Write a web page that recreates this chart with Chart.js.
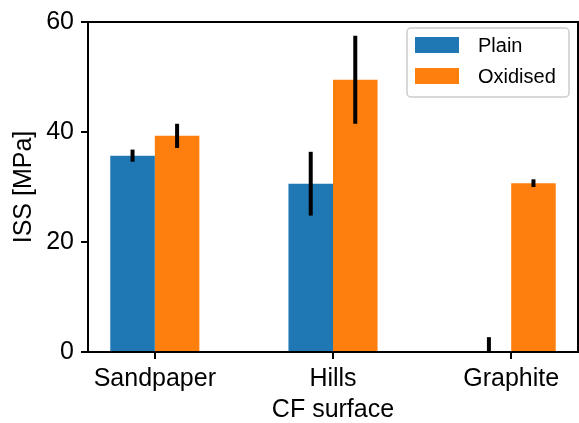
<!DOCTYPE html>
<html>
<head>
<meta charset="utf-8">
<script src="https://cdn.jsdelivr.net/npm/chart.js@4"></script>
<style>
  html, body { margin: 0; padding: 0; background: #fff; }
  #wrap { width: 579px; height: 423px; position: relative; }
</style>
</head>
<body>
<div id="wrap"><canvas id="iss-chart"></canvas></div>
<script>
const categories = ["Sandpaper", "Hills", "Graphite"];
const seriesNames = ["Plain", "Oxidised"];
const plainValues = [35.7, 30.6, 0];
const plainErrors = [1.1, 5.8, 2.7];
const oxidisedValues = [39.3, 49.5, 30.7];
const oxidisedErrors = [2.2, 8.0, 0.7];
const yTicks = [0, 20, 40, 60];

const FONT = "'Liberation Sans', Arial, Helvetica, sans-serif";
const errors = [plainErrors, oxidisedErrors];

function toPoints(values) {
  return values.map((v, i) => ({ x: i, y: v }));
}

const errorBarPlugin = {
  id: "errorBars",
  afterDatasetsDraw(chart) {
    const { ctx, chartArea, scales } = chart;
    ctx.save();
    ctx.beginPath();
    ctx.rect(chartArea.left, chartArea.top, chartArea.right - chartArea.left, chartArea.bottom - chartArea.top);
    ctx.clip();
    ctx.strokeStyle = "#000";
    ctx.lineWidth = 4;
    chart.data.datasets.forEach((ds, di) => {
      const meta = chart.getDatasetMeta(di);
      meta.data.forEach((bar, i) => {
        const v = ds.data[i].y;
        const e = errors[di][i];
        ctx.beginPath();
        ctx.moveTo(bar.x, scales.y.getPixelForValue(v - e));
        ctx.lineTo(bar.x, scales.y.getPixelForValue(v + e));
        ctx.stroke();
      });
    });
    ctx.restore();
  }
};

const framePlugin = {
  id: "frame",
  afterDraw(chart) {
    const { ctx, chartArea } = chart;
    ctx.save();
    ctx.strokeStyle = "#000";
    ctx.lineWidth = 2;
    ctx.strokeRect(chartArea.left, chartArea.top, chartArea.right - chartArea.left, chartArea.bottom - chartArea.top);

    // legend box, matplotlib style
    const x0 = 407, y0 = 28, w = 162, h = 69;
    ctx.fillStyle = "rgba(255,255,255,0.8)";
    ctx.strokeStyle = "#cccccc";
    ctx.lineWidth = 1.5;
    ctx.beginPath();
    ctx.roundRect(x0, y0, w, h, 4);
    ctx.fill();
    ctx.stroke();
    ctx.font = "20px " + FONT;
    ctx.textBaseline = "middle";
    chart.data.datasets.forEach((ds, i) => {
      const cy = y0 + 17 + i * 31;
      ctx.fillStyle = ds.backgroundColor;
      ctx.fillRect(x0 + 8, cy - 8, 44, 16);
      ctx.fillStyle = "#000";
      ctx.fillText(ds.label, x0 + 71, cy + 1);
    });
    ctx.restore();
  }
};

new Chart(document.getElementById("iss-chart"), {
  type: "bar",
  data: {
    datasets: [
      {
        label: seriesNames[0],
        data: toPoints(plainValues),
        backgroundColor: "#1f77b4",
        categoryPercentage: 0.5,
        barPercentage: 1.0
      },
      {
        label: seriesNames[1],
        data: toPoints(oxidisedValues),
        backgroundColor: "#ff7f0e",
        categoryPercentage: 0.5,
        barPercentage: 1.0
      }
    ]
  },
  options: {
    responsive: true,
    maintainAspectRatio: false,
    animation: false,
    layout: { padding: { left: 0, top: 18, right: 1, bottom: 0 } },
    plugins: {
      legend: { display: false },
      tooltip: { enabled: false }
    },
    scales: {
      x: {
        type: "linear",
        offset: false,
        min: -0.375,
        max: 2.375,
        afterBuildTicks(scale) {
          scale.ticks = categories.map((_, i) => ({ value: i }));
        },
        afterFit(scale) { scale.height = 71; },
        grid: { offset: false, drawOnChartArea: false, drawTicks: true, tickLength: 7, tickColor: "#000", lineWidth: 2 },
        border: { display: true, color: "#000", width: 2 },
        ticks: {
          color: "#000",
          padding: 5,
          font: { family: FONT, size: 25 },
          autoSkip: false,
          maxRotation: 0,
          callback: (value) => categories[value] ?? ""
        },
        title: {
          display: true,
          text: "CF surface",
          color: "#000",
          font: { family: FONT, size: 25, lineHeight: 1.0 },
          padding: { top: 0, bottom: 0 }
        }
      },
      y: {
        min: 0,
        max: 60,
        afterBuildTicks(scale) {
          scale.ticks = yTicks.map((v) => ({ value: v }));
        },
        afterFit(scale) { scale.width = 88; },
        grid: { drawOnChartArea: false, drawTicks: true, tickLength: 7, tickColor: "#000", lineWidth: 2 },
        border: { display: true, color: "#000", width: 2 },
        ticks: {
          color: "#000",
          padding: 7,
          font: { family: FONT, size: 25 }
        },
        title: {
          display: true,
          text: "ISS [MPa]",
          color: "#000",
          font: { family: FONT, size: 25, lineHeight: 1.2 },
          padding: { top: 9, bottom: 0 }
        }
      }
    }
  },
  plugins: [errorBarPlugin, framePlugin]
});
</script>
</body>
</html>
